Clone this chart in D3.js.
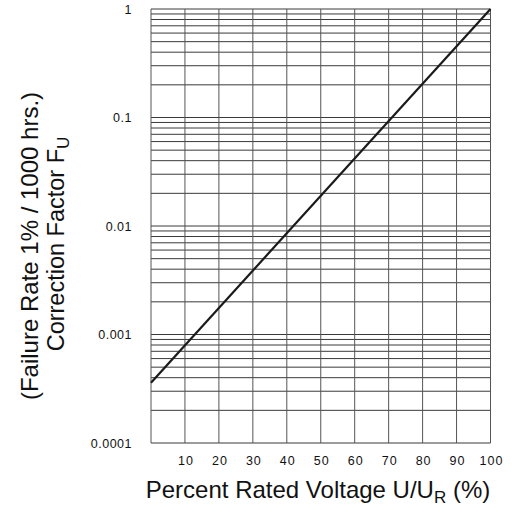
<!DOCTYPE html>
<html>
<head>
<meta charset="utf-8">
<script src="https://cdn.jsdelivr.net/npm/d3@7"></script>
<style>
  html, body { margin: 0; padding: 0; background: #fff; }
  svg { display: block; }
</style>
</head>
<body>
<svg id="chart" width="514" height="508"></svg>
<script>
// ---- data ----
const voltagePct = [0, 100];            // Percent rated voltage
const correctionFactor = [0.00036, 1];  // Correction factor F_U (log scale)
const xTickValues = [10, 20, 30, 40, 50, 60, 70, 80, 90, 100];
const yTickValues = [1, 0.1, 0.01, 0.001, 0.0001];
const yTickLabels = ["1", "0.1", "0.01", "0.001", "0.0001"];
const gridMultipliers = [1, 2, 3, 4, 5, 6, 7, 8, 9];
const decades = [0.0001, 0.001, 0.01, 0.1];

(function () {
const svg = d3.select("#chart");
const pLeft = 151, pRight = 490.5, pTop = 9, pBottom = 443;
const font = "Liberation Sans, Arial, Helvetica, sans-serif";

const x = d3.scaleLinear().domain([0, 100]).range([pLeft, pRight]);
const y = d3.scaleLog().domain([0.0001, 1]).range([pBottom, pTop]);

// horizontal grid
const hGrid = [];
decades.forEach(d => gridMultipliers.forEach(m => hGrid.push(d * m)));
hGrid.push(1);

svg.append("g").selectAll("line").data(hGrid).join("line")
  .attr("x1", pLeft).attr("x2", pRight)
  .attr("y1", d => y(d)).attr("y2", d => y(d))
  .attr("stroke", "#3a3a3a").attr("stroke-width", 1);

// vertical grid
svg.append("g").selectAll("line").data([0].concat(xTickValues)).join("line")
  .attr("x1", d => x(d)).attr("x2", d => x(d))
  .attr("y1", pTop).attr("y2", pBottom)
  .attr("stroke", "#555").attr("stroke-width", 1);

// data line
const pts = voltagePct.map((v, i) => [v, correctionFactor[i]]);
svg.append("path")
  .datum(pts)
  .attr("fill", "none")
  .attr("stroke", "#1a1a1a")
  .attr("stroke-width", 2.2)
  .attr("d", d3.line().x(d => x(d[0])).y(d => y(d[1])));

// x axis labels
const xAxis = svg.append("g").attr("transform", `translate(0,${pBottom})`)
  .call(d3.axisBottom(x).tickValues(xTickValues).tickSize(0).tickPadding(13).tickFormat(d3.format("d")));
xAxis.select(".domain").remove();
xAxis.selectAll("text").attr("font-family", font).attr("font-size", 12.5)
  .attr("letter-spacing", 1).attr("dx", 0.5).attr("fill", "#111");

// y axis labels
const yAxis = svg.append("g").attr("transform", `translate(${pLeft},0)`)
  .call(d3.axisLeft(y).tickValues(yTickValues).tickSize(0).tickPadding(19)
    .tickFormat((d, i) => yTickLabels[i]));
yAxis.select(".domain").remove();
yAxis.selectAll("text").attr("font-family", font).attr("font-size", 12.5)
  .attr("letter-spacing", 0.5).attr("fill", "#111");

// x title
const xt = svg.append("text")
  .attr("x", 318).attr("y", 498)
  .attr("text-anchor", "middle")
  .attr("font-family", font)
  .attr("font-size", 24).attr("fill", "#111");
xt.append("tspan").text("Percent Rated Voltage U/U");
xt.append("tspan").attr("font-size", 17).attr("dy", 5).text("R");
xt.append("tspan").attr("dy", -5).text(" (%)");

// y title
svg.append("text")
  .attr("transform", "translate(38,246) rotate(-90)")
  .attr("text-anchor", "middle")
  .attr("font-family", font)
  .attr("font-size", 24).attr("fill", "#111")
  .text("(Failure Rate 1% / 1000 hrs.)");
const yt2 = svg.append("text")
  .attr("transform", "translate(64,244) rotate(-90)")
  .attr("text-anchor", "middle")
  .attr("font-family", font)
  .attr("font-size", 23.5).attr("fill", "#111");
yt2.append("tspan").text("Correction Factor F");
yt2.append("tspan").attr("font-size", 17).attr("dy", 5).text("U");
})();
</script>
</body>
</html>
